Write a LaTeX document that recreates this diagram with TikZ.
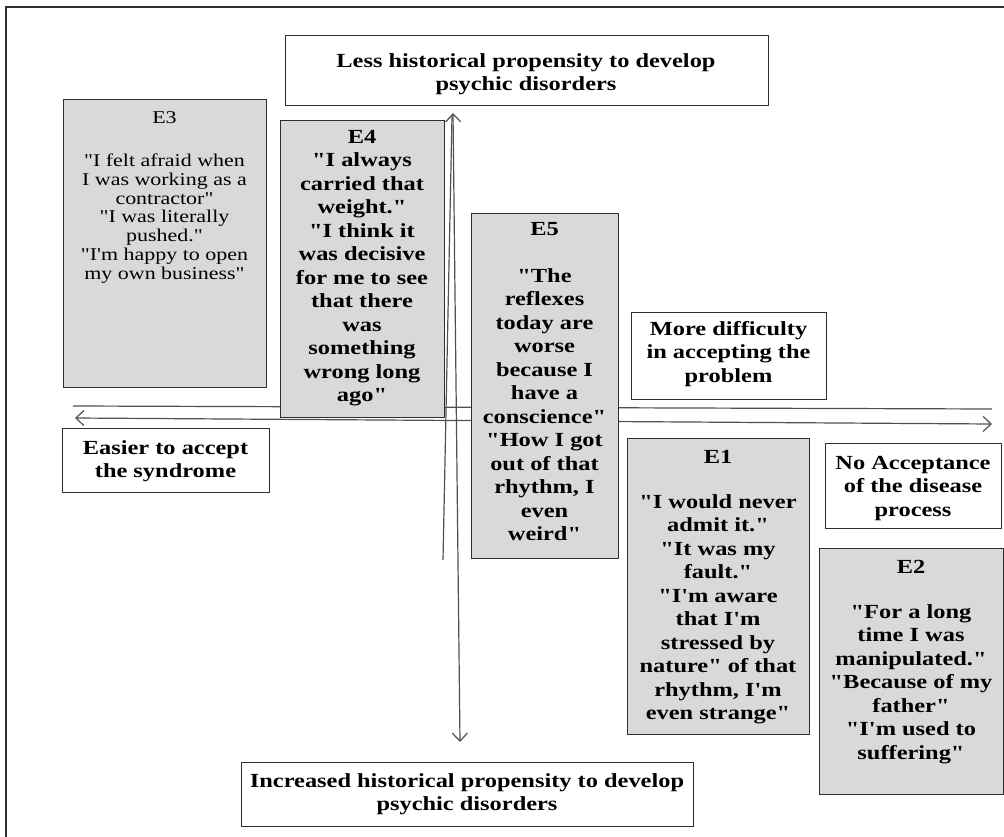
\documentclass[tikz,border=0pt]{standalone}
\usepackage{fontspec}
\setmainfont[FakeStretch=1.22, Ligatures=TeXOff]{Liberation Serif}
\usetikzlibrary{arrows.meta}
\definecolor{boxgray}{HTML}{D9D9D9}
\definecolor{edgec}{HTML}{2E2E2E}
\definecolor{axisc}{HTML}{505050}
\tikzset{
  qbox/.style={draw=edgec, line width=1.3pt, fill=boxgray, inner sep=0pt, anchor=north west},
  lbox/.style={draw=edgec, line width=1.3pt, fill=white, inner sep=0pt, anchor=north west},
  btxt/.style={align=center, font=\fontsize{20}{23.5}\selectfont\bfseries, inner sep=0pt, anchor=north},
  rtxt/.style={align=center, font=\fontsize{18}{18.7}\selectfont, inner sep=0pt, anchor=north},
  axisline/.style={draw=axisc, line width=1.2pt},
  axisarrow/.style={axisline, {Straight Barb[length=8pt,width=15pt]}-{Straight Barb[length=8pt,width=15pt]}},
}
\begin{document}
\begin{tikzpicture}[x=1pt,y=-1pt]
\useasboundingbox (0,0) rectangle (1004,837);
\fill[white] (0,0) rectangle (1004,837);
\draw[edgec, line width=1.3pt] (1010,7) -- (6,7) -- (6,845);
% axes
\coordinate (hl) at (75,418); \coordinate (hr) at (992,424);
\coordinate (hl2) at (73,406); \coordinate (hr2) at (992,409);
\coordinate (vt) at (453,113); \coordinate (vb) at (460,742);
\coordinate (vt2) at (452,116); \coordinate (vb2) at (443,560);
\draw[axisline] (hl2) -- (hr2);
\draw[axisline] (vt2) -- (vb2);
\draw[axisarrow] (hl) -- (hr);
\draw[axisarrow] (vt) -- (vb);
% boxes
\node[lbox, minimum width=483pt, minimum height=70pt] (btop) at (285,35) {};
\node[qbox, minimum width=203pt, minimum height=288pt] (be3) at (63,99) {};
\node[qbox, minimum width=164pt, minimum height=297pt] (be4) at (280,120) {};
\node[qbox, minimum width=147pt, minimum height=345pt] (be5) at (471,213) {};
\node[lbox, minimum width=195pt, minimum height=87pt] (bmore) at (631,312) {};
\node[lbox, minimum width=207pt, minimum height=64pt] (beasy) at (62,428) {};
\node[qbox, minimum width=182pt, minimum height=296pt] (be1) at (627,438) {};
\node[lbox, minimum width=176pt, minimum height=85pt] (bno) at (825,443) {};
\node[qbox, minimum width=184pt, minimum height=246pt] (be2) at (819,548) {};
\node[lbox, minimum width=452pt, minimum height=64pt] (bbot) at (241,762) {};
% texts
\node[btxt] (ttop) at (526,53) {Less historical propensity to develop\\ psychic disorders};
\node[rtxt] (te3) at (164.5,111) {E3\\[25pt] "I felt afraid when\\ I was working as a\\ contractor"\\ "I was literally\\ pushed."\\ "I'm happy to open\\ my own business"};
\node[btxt] (te4) at (362,130) {E4\\ "I always\\ carried that\\ weight."\\ "I think it\\ was decisive\\ for me to see\\ that there\\ was\\ something\\ wrong long\\ ago"};
\node[btxt] (te5) at (544.5,222) {E5\\[23.5pt] "The\\ reflexes\\ today are\\ worse\\ because I\\ have a\\ conscience"\\ "How I got\\ out of that\\ rhythm, I\\ even\\ weird"};
\node[btxt] (tmore) at (728.5,321) {More difficulty\\ in accepting the\\ problem};
\node[btxt] (teasy) at (165.5,440) {Easier to accept\\ the syndrome};
\node[btxt] (te1) at (718,450) {E1\\[21.5pt] "I would never\\ admit it."\\ "It was my\\ fault."\\ "I'm aware\\ that I'm\\ stressed by\\ nature" of that\\ rhythm, I'm\\ even strange"};
\node[btxt] (tno) at (913,456) {No Acceptance\\ of the disease\\ process};
\node[btxt] (te2) at (911,560) {E2\\[21.5pt] "For a long\\ time I was\\ manipulated."\\ "Because of my\\ father"\\ "I'm used to\\ suffering"};
\node[btxt] (tbot) at (467,773) {Increased historical propensity to develop\\ psychic disorders};
\end{tikzpicture}
\end{document}
